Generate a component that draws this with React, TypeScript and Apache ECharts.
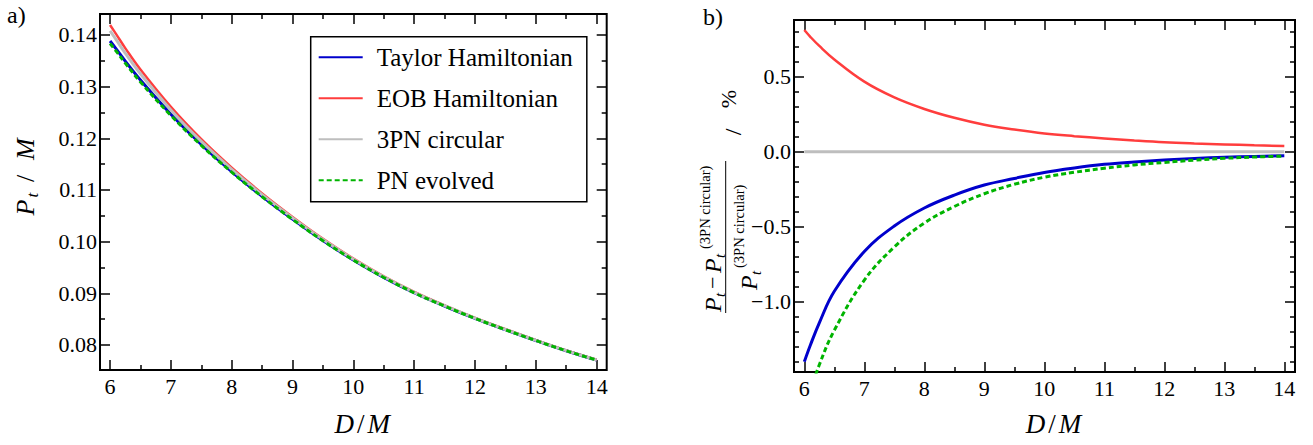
import React, { useEffect, useRef } from 'react';
import * as echarts from 'echarts';

// D/M sample positions
const distances = [6, 6.1, 6.25, 6.5, 7, 7.5, 8, 8.5, 9, 9.5, 10, 10.5, 11, 11.5, 12, 12.5, 13, 13.5, 14];

// panel a) P_t / M
const ptTaylor = [0.13883, 0.13731, 0.13494, 0.13127, 0.12467, 0.11881, 0.11357, 0.10878, 0.10437, 0.10022, 0.09647, 0.0931, 0.09012, 0.08754, 0.08515, 0.08296, 0.08087, 0.07888, 0.07708];
const ptEOB = [0.14194, 0.14017, 0.13746, 0.13331, 0.12609, 0.11983, 0.11432, 0.10934, 0.10479, 0.10055, 0.09672, 0.0933, 0.09028, 0.08767, 0.08525, 0.08305, 0.08094, 0.07893, 0.07713];
const pt3PN = [0.1408, 0.1391, 0.1365, 0.1325, 0.1255, 0.1194, 0.114, 0.1091, 0.1046, 0.1004, 0.0966, 0.0932, 0.0902, 0.0876, 0.0852, 0.083, 0.0809, 0.0789, 0.0771];
const ptPNEvolved = [0.13835, 0.13687, 0.13456, 0.13092, 0.12443, 0.11864, 0.11346, 0.1087, 0.10431, 0.10018, 0.09644, 0.09307, 0.0901, 0.08752, 0.08514, 0.08295, 0.08086, 0.07887, 0.07708];

// panel b) relative difference in %
const relTaylor = [-1.4, -1.29, -1.14, -0.93, -0.665, -0.495, -0.375, -0.289, -0.222, -0.178, -0.138, -0.108, -0.084, -0.068, -0.055, -0.045, -0.037, -0.031, -0.027];
const relEOB = [0.811, 0.766, 0.705, 0.615, 0.467, 0.362, 0.285, 0.226, 0.18, 0.148, 0.122, 0.104, 0.089, 0.075, 0.063, 0.055, 0.049, 0.043, 0.038];
const rel3PN = [0, 0, 0, 0, 0, 0, 0, 0, 0, 0, 0, 0, 0, 0, 0, 0, 0, 0, 0];
const relPNEvolved = [-1.74, -1.6, -1.42, -1.19, -0.856, -0.635, -0.475, -0.365, -0.28, -0.217, -0.17, -0.137, -0.11, -0.088, -0.071, -0.056, -0.044, -0.035, -0.029];

const seriesNames = ['Taylor Hamiltonian', 'EOB Hamiltonian', '3PN circular', 'PN evolved'];

// tick values
const xMajorTicks = [6, 7, 8, 9, 10, 11, 12, 13, 14];
const xMinorTicks = [6.5, 7.5, 8.5, 9.5, 10.5, 11.5, 12.5, 13.5];
const leftYMajorTicks = [0.08, 0.09, 0.1, 0.11, 0.12, 0.13, 0.14];
const leftYMinorTicks = [0.085, 0.095, 0.105, 0.115, 0.125, 0.135];
const rightYMajorTicks = [-1.0, -0.5, 0, 0.5];
const rightYMinorTicks = [-1.4, -1.3, -1.2, -1.1, -0.9, -0.8, -0.7, -0.6, -0.4, -0.3, -0.2, -0.1, 0.1, 0.2, 0.3, 0.4, 0.6, 0.7, 0.8];

const colors = ['#0000cc', '#ff3d3d', '#bebebe', '#00b400'];

const SERIF = 'Liberation Serif';

function buildAxes(
  dim: 'x' | 'y',
  gridIndex: number,
  min: number,
  max: number,
  major: number[],
  minor: number[],
  fmt: (v: number) => string,
  nameOpts?: any
) {
  const [p1, p2] = dim === 'x' ? ['bottom', 'top'] : ['left', 'right'];
  const mk = (position: string, ticks: number[], len: number, labels: boolean, extra?: any) => ({
    type: 'value',
    gridIndex,
    position,
    min,
    max,
    axisLine: { show: false, onZero: false },
    splitLine: { show: false },
    minorTick: { show: false },
    axisTick: {
      show: true,
      inside: true,
      length: len,
      lineStyle: { color: '#000', width: 1.5 },
      customValues: ticks,
    },
    axisLabel: labels
      ? {
          show: true,
          customValues: major,
          formatter: fmt,
          color: '#000',
          fontFamily: SERIF,
          fontSize: 22,
          margin: dim === 'x' ? 5 : 3,
        }
      : { show: false },
    ...(extra || {}),
  });
  return [
    mk(p1, major, 10, true, nameOpts),
    mk(p1, minor, 5, false),
    mk(p2, major, 10, false),
    mk(p2, minor, 5, false),
  ];
}

const fmtLeftY = (v: number) => v.toFixed(2);
const fmtRightY = (v: number) => {
  if (Math.abs(v) < 1e-9) return '0.0';
  return (v < 0 ? '\u2212' : '') + Math.abs(v).toFixed(1);
};
const fmtX = (v: number) => String(Math.round(v));

const xName = (gap: number) => ({
  name: '{i|D}{s|/}{i|M}',
  nameLocation: 'middle',
  nameGap: gap,
  nameTextStyle: {
    padding: [0, 0, 0, 18],
    rich: {
      i: { fontFamily: SERIF, fontStyle: 'italic', fontSize: 27, color: '#000' },
      s: { fontFamily: SERIF, fontSize: 27, color: '#000', padding: [0, 3, 0, 3] },
    },
  },
});

const txt = (x: number, y: number, text: string, font: string, align = 'left') => ({
  type: 'text',
  x,
  y,
  silent: true,
  style: { text, font, fill: '#000', align, verticalAlign: 'middle' },
});

export default function App() {
  const ref = useRef<HTMLDivElement>(null);

  useEffect(() => {
    if (!ref.current) return;
    const chart = echarts.init(ref.current, null, { renderer: 'svg' });

    const leftData = [ptTaylor, ptEOB, pt3PN, ptPNEvolved];
    const rightData = [relTaylor, relEOB, rel3PN, relPNEvolved];

    const mkSeries = (arr: number[][], xi: number, yi: number) =>
      arr.map((vals, k) => ({
        name: seriesNames[k],
        type: 'line',
        xAxisIndex: xi,
        yAxisIndex: yi,
        data: distances.map((d, i) => [d, vals[i]]),
        symbol: 'none',
        smooth: 0.4,
        clip: true,
        color: colors[k],
        lineStyle: {
          color: colors[k],
          width: k === 1 ? 2.5 : 3,
          type: k === 3 ? [5, 3] : 'solid',
        },
        z: 2 + k,
      }));

    const option: any = {
      animation: false,
      backgroundColor: '#fff',
      grid: [
        { left: 100, top: 14, width: 506.7, height: 356, show: true, borderColor: '#000', borderWidth: 2, backgroundColor: 'transparent', outerBoundsMode: 'none' },
        { left: 794, top: 20, width: 501, height: 352, show: true, borderColor: '#000', borderWidth: 2, backgroundColor: 'transparent', outerBoundsMode: 'none' },
      ],
      xAxis: [
        ...buildAxes('x', 0, 5.835, 14.165, xMajorTicks, xMinorTicks, fmtX, xName(40)),
        ...buildAxes('x', 1, 5.828, 14.178, xMajorTicks, xMinorTicks, fmtX, xName(38)),
      ],
      yAxis: [
        ...buildAxes('y', 0, 0.07516, 0.14406, leftYMajorTicks, leftYMinorTicks, fmtLeftY),
        ...buildAxes('y', 1, -1.468, 0.878, rightYMajorTicks, rightYMinorTicks, fmtRightY),
      ],
      legend: {
        data: seriesNames,
        orient: 'vertical',
        left: 310.7,
        top: 36.7,
        padding: [8, 14, 9, 7],
        itemWidth: 44,
        itemHeight: 24,
        itemGap: 16,
        borderColor: '#000',
        borderWidth: 1.5,
        borderRadius: 0,
        backgroundColor: '#fff',
        selectedMode: false,
        itemStyle: { color: 'rgba(0,0,0,0)', borderWidth: 0, opacity: 0 },
        textStyle: {
          fontFamily: SERIF,
          fontSize: 25,
          lineHeight: 24,
          color: '#000',
          padding: [0, 0, 0, 9],
        },
      },
      series: [...mkSeries(leftData, 0, 0), ...mkSeries(rightData, 4, 4)],
      graphic: [
        txt(7, 15, 'a)', `24px "${SERIF}"`),
        txt(703, 17, 'b)', `24px "${SERIF}"`),
        {
          type: 'group',
          x: 25,
          y: 177.5,
          rotation: Math.PI / 2,
          silent: true,
          children: [
            txt(-38, 0, 'P', `italic 26px "${SERIF}"`),
            txt(-20, 7, 't', `italic 17px "${SERIF}"`),
            txt(-1, 0, '/', `26px "${SERIF}"`, 'center'),
            txt(17.5, 0, 'M', `italic 26px "${SERIF}"`),
          ],
        },
        {
          type: 'group',
          x: 725.7,
          y: 237,
          rotation: Math.PI / 2,
          silent: true,
          children: [
            // numerator
            txt(-75, -13, 'P', `italic 24px "${SERIF}"`),
            txt(-60, -6, 't', `italic 15px "${SERIF}"`),
            txt(-52, -13, '\u2212', `22px "${SERIF}"`),
            txt(-36, -13, 'P', `italic 24px "${SERIF}"`),
            txt(-21, -6, 't', `italic 15px "${SERIF}"`),
            txt(-12, -21, '(3PN circular)', `14.5px "${SERIF}"`),
            // fraction bar
            {
              type: 'line',
              shape: { x1: -76, y1: 0, x2: 76, y2: 0 },
              style: { stroke: '#000', lineWidth: 1 },
            },
            // denominator
            txt(-53, 23, 'P', `italic 24px "${SERIF}"`),
            txt(-38, 30, 't', `italic 15px "${SERIF}"`),
            txt(-31, 13, '(3PN circular)', `14.5px "${SERIF}"`),
            // unit
            txt(105, 7, '/', `24px "${SERIF}"`, 'center'),
            txt(138, 3, '%', `22px "${SERIF}"`, 'center'),
          ],
        },
      ],
    };

    chart.setOption(option);
    return () => chart.dispose();
  }, []);

  return (
    <div
      ref={ref}
      style={{ position: 'fixed', left: 0, top: 0, width: 1313, height: 445, background: '#fff' }}
    />
  );
}
